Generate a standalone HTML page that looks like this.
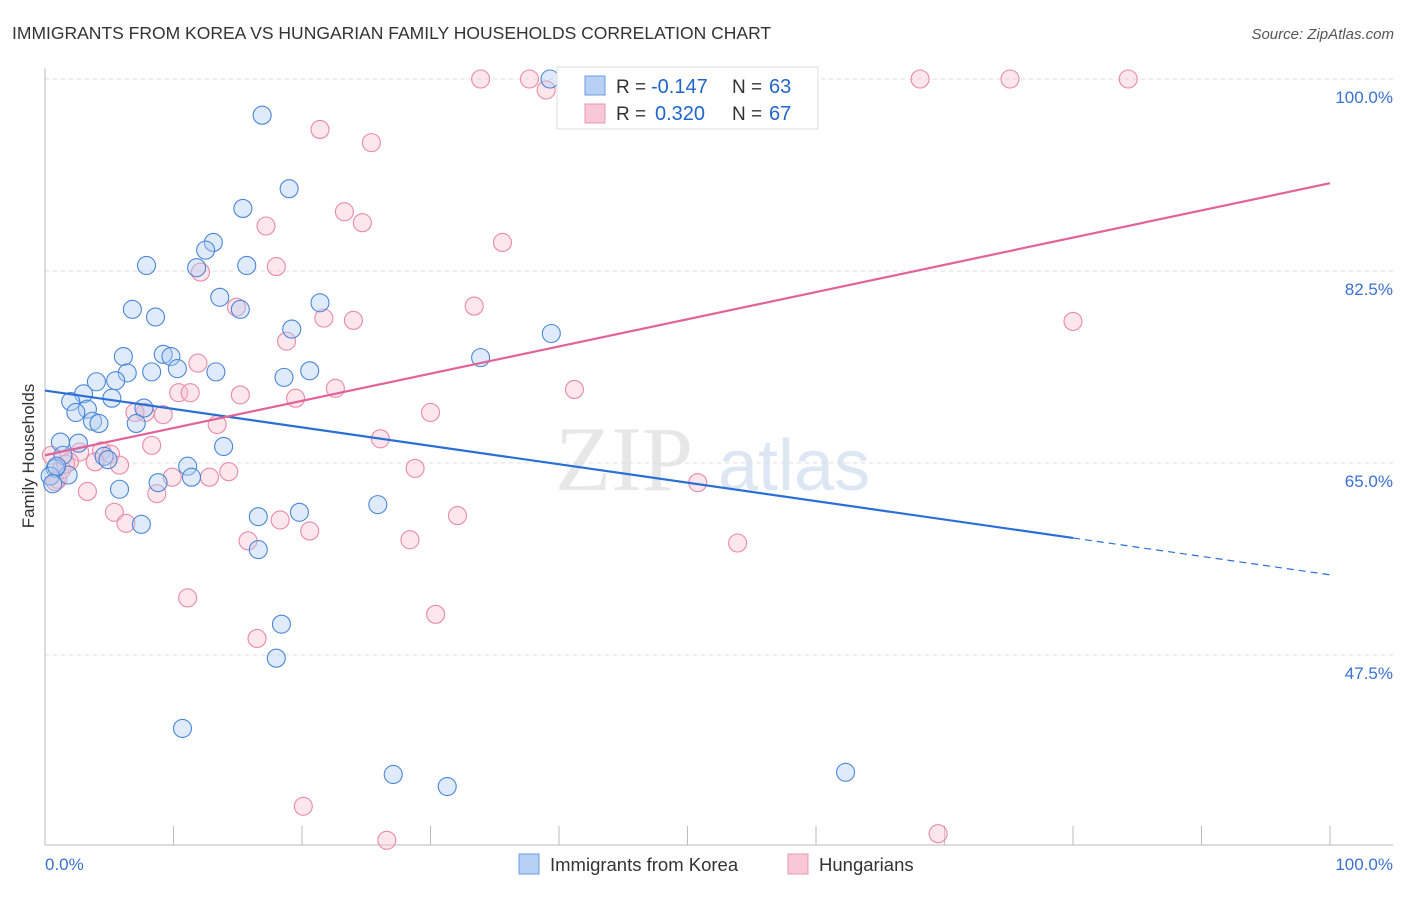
<!DOCTYPE html>
<html><head><meta charset="utf-8"><style>
body{margin:0;background:#fff;font-family:"Liberation Sans",sans-serif;}
</style></head><body>
<svg id="chart" width="1406" height="892" xmlns="http://www.w3.org/2000/svg" font-family="Liberation Sans, sans-serif">
<text x="12" y="39" font-size="17.5" fill="#333">IMMIGRANTS FROM KOREA VS HUNGARIAN FAMILY HOUSEHOLDS CORRELATION CHART</text>
<text x="1394" y="39" font-size="15" fill="#555" text-anchor="end" font-style="italic">Source: ZipAtlas.com</text>
<g>
<text x="555" y="490" font-size="92" fill="#ddd" font-family="Liberation Serif, serif" opacity="0.7">ZIP</text>
<text x="718" y="490" font-size="72" fill="#c8d8ee" opacity="0.6">atlas</text>
</g>
<g id="grid"></g><g id="axes"></g>
<g id="pts"></g><g id="trend"></g>
<text transform="translate(34,456) rotate(-90)" font-size="17" fill="#333" text-anchor="middle">Family Households</text>
<g>
<rect x="557" y="67" width="261" height="62" fill="#fff" stroke="#ddd"/>
<rect x="585" y="76" width="20" height="19" fill="#b8d0f4" stroke="#6a9ee0"/>
<rect x="585" y="104" width="20" height="19" fill="#f9c8d6" stroke="#e899b2"/>
<text x="616" y="93" font-size="19" fill="#333">R =</text>
<text x="651" y="93" font-size="20" fill="#2266cc">-0.147</text>
<text x="732" y="93" font-size="19" fill="#333">N =</text>
<text x="769" y="93" font-size="20" fill="#2266cc">63</text>
<text x="616" y="120" font-size="19" fill="#333">R =</text>
<text x="655" y="120" font-size="20" fill="#2266cc">0.320</text>
<text x="732" y="120" font-size="19" fill="#333">N =</text>
<text x="769" y="120" font-size="20" fill="#2266cc">67</text>
</g>
<g>
<rect x="519" y="854" width="20" height="20" fill="#b8d0f4" stroke="#6a9ee0"/>
<text x="550" y="871" font-size="18.5" fill="#333">Immigrants from Korea</text>
<rect x="788" y="854" width="20" height="20" fill="#f9c8d6" stroke="#e899b2"/>
<text x="819" y="871" font-size="18.5" fill="#333">Hungarians</text>
</g>
</svg>
<script>
const blueX=[16.9,39.3,19.0,15.4,13.1,12.5,7.9,11.8,15.7,13.6,15.2,6.8,8.6,21.4,19.2,39.4,33.9,6.1,9.2,9.8,10.3,13.3,8.3,6.4,20.6,18.6,4.0,5.5,3.0,2.0,5.2,3.3,2.4,7.7,3.7,4.2,7.1,13.9,1.2,2.6,1.4,4.6,4.9,11.1,11.4,1.8,0.8,0.4,0.6,8.8,5.8,25.9,16.6,19.8,7.5,16.6,18.4,18.0,10.7,27.1,31.3,62.3,0.9];
const blueY=[96.7,100,90.0,88.2,85.1,84.4,83.0,82.8,83.0,80.1,79.0,79.0,78.3,79.6,77.2,76.8,74.6,74.7,74.9,74.7,73.6,73.3,73.3,73.2,73.4,72.8,72.4,72.5,71.3,70.6,70.9,69.9,69.6,70.0,68.8,68.6,68.6,66.5,66.9,66.8,65.7,65.6,65.3,64.7,63.7,63.9,64.5,63.8,63.1,63.2,62.6,61.2,60.1,60.5,59.4,57.1,50.3,47.2,40.8,36.6,35.5,36.8,64.7];
const pinkX=[33.9,37.7,39.0,40.9,68.1,75.1,84.3,21.4,25.4,23.3,24.7,17.2,35.6,18.0,12.1,14.9,33.4,21.7,24.0,80.0,18.8,11.9,10.4,11.3,41.2,22.6,15.2,19.5,30.0,7.8,9.2,7.0,13.4,26.1,8.3,4.4,2.7,5.1,1.9,3.9,5.8,28.8,9.9,14.3,12.8,1.0,0.8,3.3,8.7,50.8,32.1,5.4,18.3,6.3,20.6,15.8,28.4,53.9,11.1,30.4,16.5,20.1,26.6,69.5,0.5,1.3,1.6];
const pinkY=[100,100,99.0,97.6,100,100,100,95.4,94.2,87.9,86.9,86.6,85.1,82.9,82.4,79.2,79.3,78.2,78.0,77.9,76.1,74.1,71.4,71.4,71.7,71.8,71.2,70.9,69.6,69.6,69.4,69.6,68.5,67.2,66.6,66.1,66.0,65.8,65.1,65.1,64.8,64.5,63.7,64.2,63.7,63.5,63.3,62.4,62.2,63.2,60.2,60.5,59.8,59.5,58.8,57.9,58.0,57.7,52.7,51.2,49.0,33.7,30.6,31.2,65.7,64.4,64.9];
const yTicks=[100,82.5,65,47.5];
const yTickLabels=["100.0%","82.5%","65.0%","47.5%"];
const xTicks=[0,10,20,30,40,50,60,70,80,90,100];
const blueTrend=[71.6,-0.168];
const pinkTrend=[65.7,0.248];
const blueSolidEnd=80;
const X0=45,X1=1330,Y0=845,Y1=79,YMIN=30.17,YMAX=100;
const sx=v=>X0+(v/100)*(X1-X0);
const sy=v=>Y0-(v-YMIN)/(YMAX-YMIN)*(Y0-Y1);
const NS="http://www.w3.org/2000/svg";
function mk(tag,attrs,parent){const e=document.createElementNS(NS,tag);for(const k in attrs)e.setAttribute(k,attrs[k]);document.getElementById(parent).appendChild(e);return e;}
yTicks.forEach((t,i)=>{
  const l=mk('line',{x1:X0,x2:1393,y1:sy(t),y2:sy(t),stroke:'#ddd','stroke-dasharray':'4,4'},'grid');
  
  
  const tx=mk('text',{x:1393,y:sy(t)+24,'font-size':17,fill:'#3a70d0','text-anchor':'end'},'grid');
  tx.textContent=yTickLabels[i];
  
  
});
const ax=mk('line',{x1:X0,x2:X0,y1:68,y2:Y0,stroke:'#bbb'},'axes');


const bx=mk('line',{x1:X0,x2:1393,y1:Y0,y2:Y0,stroke:'#bbb'},'axes');


xTicks.forEach(t=>{
  const l=mk('line',{x1:sx(t),x2:sx(t),y1:826,y2:Y0,stroke:'#bbb'},'axes');
  
  
});
const xl0=mk('text',{x:45,y:870,'font-size':17,fill:'#3a70d0'},'axes');xl0.textContent='0.0%';


const xl1=mk('text',{x:1393,y:870,'font-size':17,fill:'#3a70d0','text-anchor':'end'},'axes');xl1.textContent='100.0%';


function pts(xs,ys,fill,stroke,name){xs.forEach((x,i)=>{
  const c=mk('circle',{cx:sx(x),cy:sy(ys[i]),r:9,fill:fill,'fill-opacity':0.4,stroke:stroke,'stroke-width':1.1},'pts');
  
  
});}
pts(pinkX,pinkY,'#f9c0d0','#e88aa8','hungarians-point');
pts(blueX,blueY,'#b0cdf2','#4a86d8','korea-point');
const f=(tr,x)=>tr[0]+tr[1]*x;
const b1=mk('line',{x1:sx(0),y1:sy(f(blueTrend,0)),x2:sx(blueSolidEnd),y2:sy(f(blueTrend,blueSolidEnd)),stroke:'#2a6fd6','stroke-width':2.2},'trend');


const b2=mk('line',{x1:sx(blueSolidEnd),y1:sy(f(blueTrend,blueSolidEnd)),x2:sx(100),y2:sy(f(blueTrend,100)),stroke:'#2a6fd6','stroke-width':1.2,'stroke-dasharray':'7,5'},'trend');


const p1=mk('line',{x1:sx(0),y1:sy(f(pinkTrend,0)),x2:sx(100),y2:sy(f(pinkTrend,100)),stroke:'#e2639a','stroke-width':2.2},'trend');


</script>
</body></html>
